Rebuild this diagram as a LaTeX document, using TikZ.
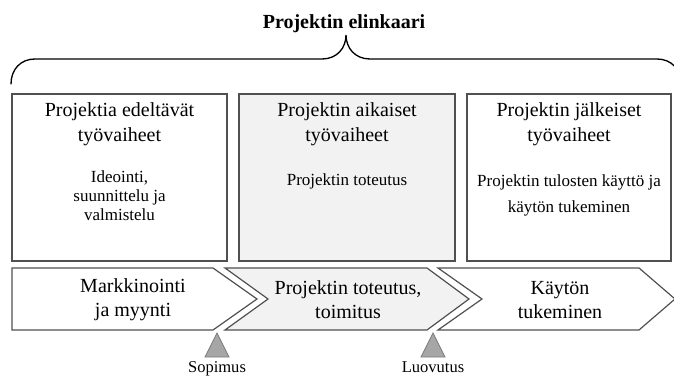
\documentclass[tikz,border=0pt]{standalone}
\usepackage{fontspec}
\setmainfont{Liberation Serif}
\definecolor{edge}{HTML}{505050}
\definecolor{lightfill}{HTML}{F2F2F2}
\definecolor{trifill}{HTML}{A6A6A6}
\definecolor{triedge}{HTML}{7A7A7A}
\newcommand{\headfont}{\fontsize{15pt}{18.75pt}\selectfont}
\newcommand{\chevfont}{\fontsize{15pt}{18pt}\selectfont}
\newcommand{\smallA}{\fontsize{12.75pt}{14.25pt}\selectfont}
\newcommand{\smallB}{\fontsize{12.75pt}{19.5pt}\selectfont}
\newcommand{\labfont}{\fontsize{12.4pt}{14pt}\selectfont}
\begin{document}
\begin{tikzpicture}[x=0.75pt,y=-0.75pt,
  phasebox/.style={draw=edge,line width=0.9pt},
  chev/.style={draw=edge,line width=0.9pt,line join=miter},
  milestone/.style={draw=triedge,fill=trifill,line width=0.6pt},
  txt/.style={inner sep=0pt,align=center}]
\useasboundingbox (0,0) rectangle (674,377);
% brace and title
\draw[line width=1pt,black,line cap=round]
  (11,84) .. controls (11,69) and (21,59) .. (35,59) -- (322,59)
  .. controls (337,59) and (346,48) .. (346,35)
  .. controls (346,48) and (355,59) .. (370,59) -- (657,59)
  .. controls (671,59) and (681,69) .. (681,84);
\node[inner sep=0pt,anchor=base,font=\fontsize{15pt}{18pt}\selectfont\bfseries] (title) at (344,29) {Projektin elinkaari};
% upper boxes
\draw[phasebox] (12,94) rectangle (227,261);
\draw[phasebox,fill=lightfill] (239,94) rectangle (455,261);
\draw[phasebox] (467,94) rectangle (671,261);
\node[txt,font=\headfont] (h1) at (119.5,124.5) {Projektia edeltävät\\työvaiheet};
\node[txt,font=\smallA] (s1) at (119.5,196) {Ideointi,\\suunnittelu ja\\valmistelu};
\node[txt,font=\headfont] (h2) at (347,124.5) {Projektin aikaiset\\työvaiheet};
\node[txt,font=\smallA] (s2) at (347,181) {Projektin toteutus};
\node[txt,font=\headfont] (h3) at (569,124.5) {Projektin jälkeiset\\työvaiheet};
\node[txt,font=\smallB] (s3) at (569,195) {Projektin tulosten käyttö ja\\käytön tukeminen};
% chevrons
\draw[chev] (12,268) -- (213,268) -- (257,299) -- (213,330) -- (12,330) -- cycle;
\draw[chev,fill=lightfill] (225,268) -- (427,268) -- (469,299) -- (427,330) -- (225,330) -- (268,299) -- cycle;
\draw[chev] (438,268) -- (639,268) -- (675,299) -- (639,330) -- (438,330) -- (482,299) -- cycle;
\node[txt,font=\chevfont] (c1) at (133,300) {Markkinointi\\ja myynti};
\node[txt,font=\chevfont] (c2) at (348,300) {Projektin toteutus,\\toimitus};
\node[txt,font=\chevfont] (c3) at (560,300) {Käytön\\tukeminen};
% milestones
\draw[milestone] (217,333) -- (229,357) -- (205,357) -- cycle;
\draw[milestone] (433,333) -- (445,357) -- (421,357) -- cycle;
\node[inner sep=0pt,anchor=base,font=\labfont] (m1) at (217,372) {Sopimus};
\node[inner sep=0pt,anchor=base,font=\labfont] (m2) at (433,372) {Luovutus};
\end{tikzpicture}
\end{document}
